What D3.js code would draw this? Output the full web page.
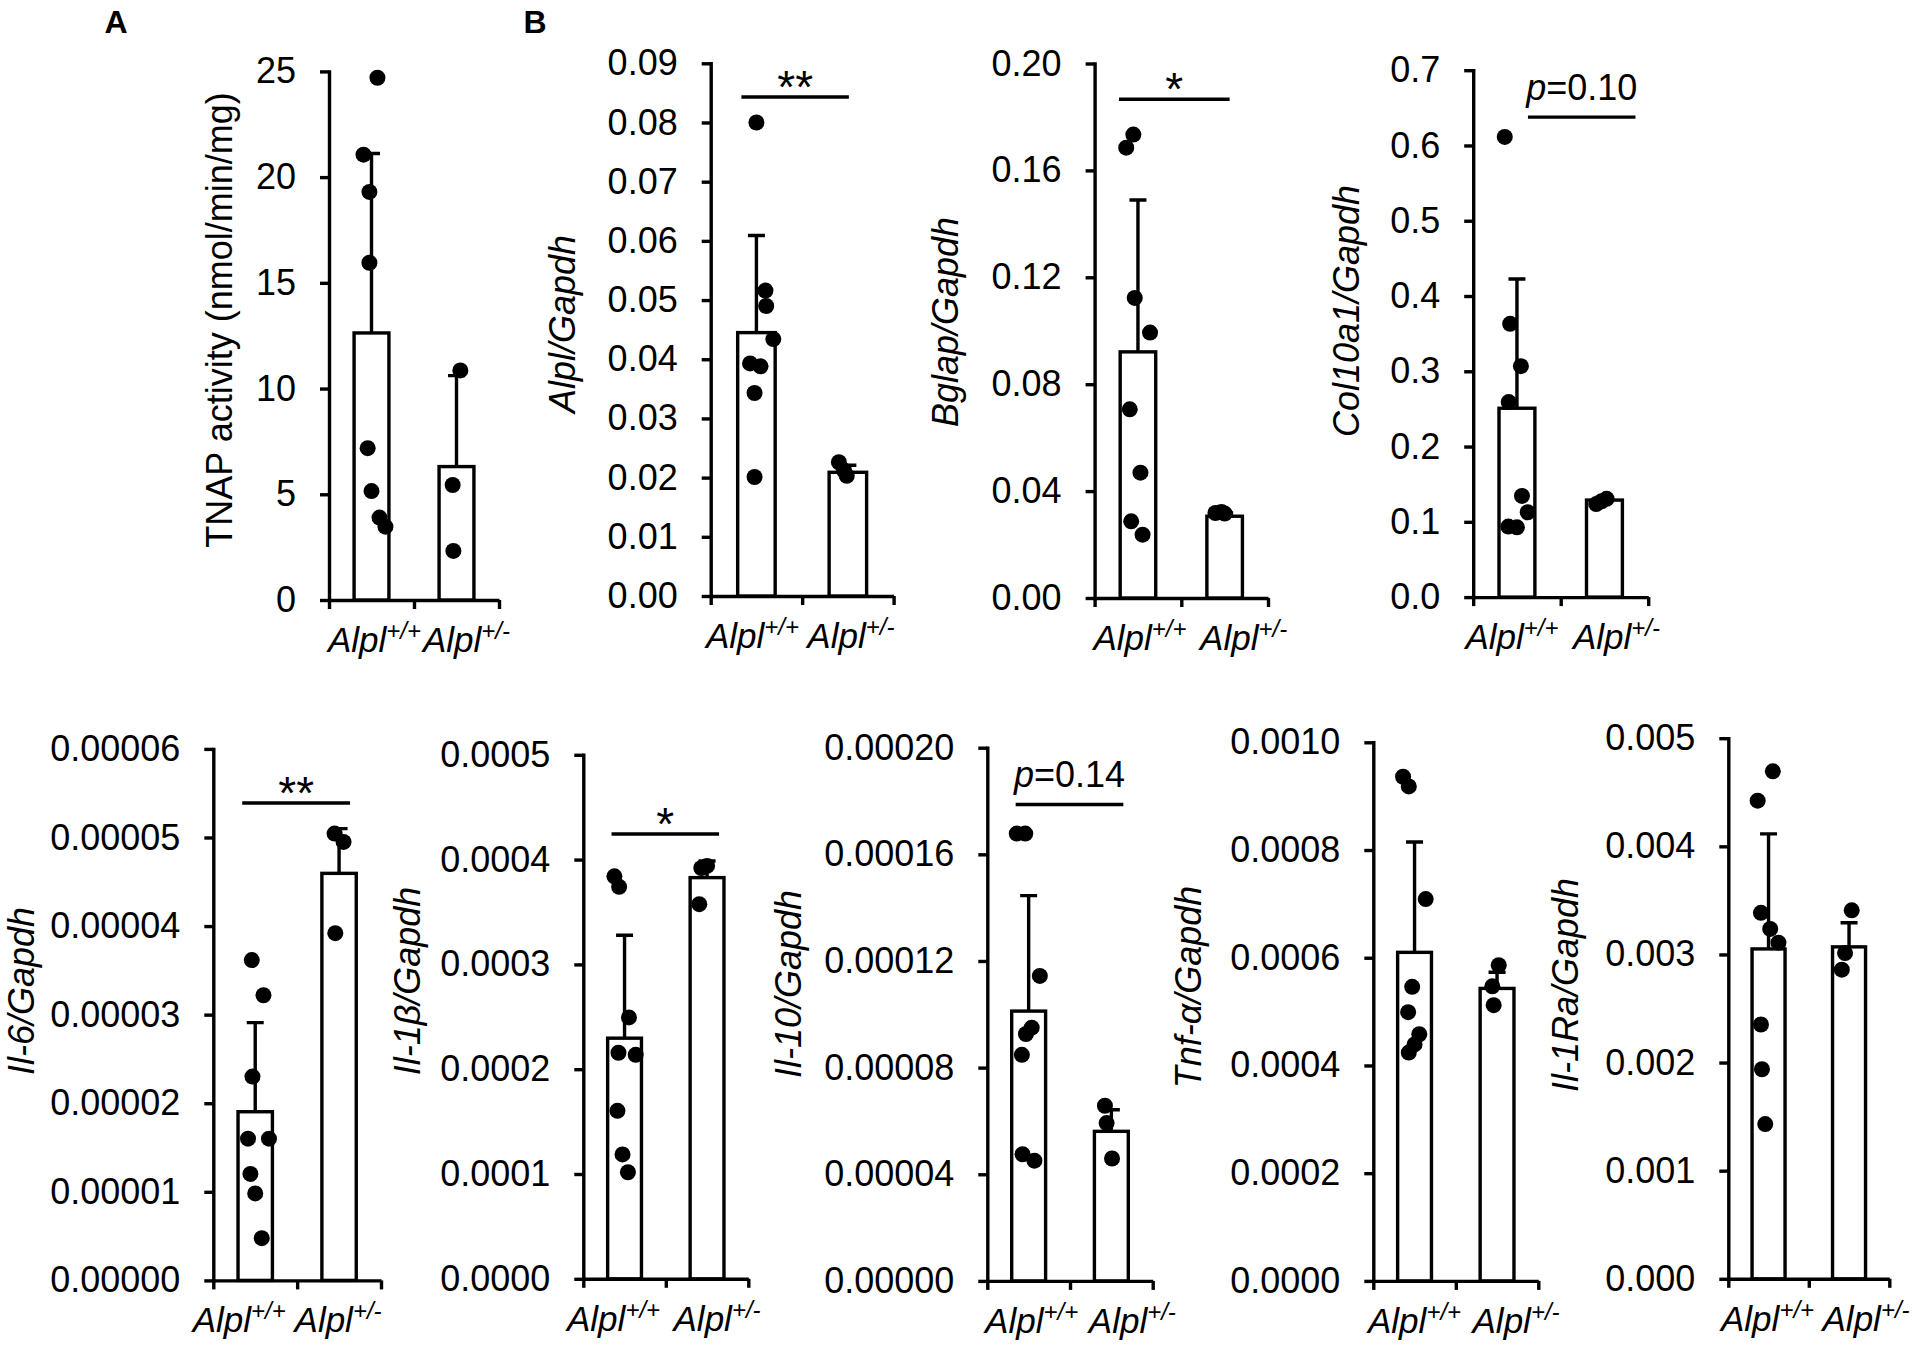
<!DOCTYPE html>
<html>
<head>
<meta charset="utf-8">
<script src="https://cdn.jsdelivr.net/npm/d3@7"></script>
<style>
    body { margin: 0; background: #fff; }
    svg text { font-family: "Liberation Sans", Arial, sans-serif; fill: #000; }
</style>
</head>
<body>
<svg id="chart" width="1920" height="1350"></svg>
<script>
// genotypes on every x axis
const groups = ['wt', 'het']
const groupSup = ['+/+', '+/-']

// y axis titles: A, then the three B panels on top, then the five below
const yTitles = ['TNAP activity (nmol/min/mg)', 'Alpl/Gapdh', 'Bglap/Gapdh', 'Col10a1/Gapdh',
    'Il-6/Gapdh', 'Il-1β/Gapdh', 'Il-10/Gapdh', 'Tnf-α/Gapdh', 'Il-1Ra/Gapdh']

const tickLabels = [
    ['0', '5', '10', '15', '20', '25'],
    ['0.00', '0.01', '0.02', '0.03', '0.04', '0.05', '0.06', '0.07', '0.08', '0.09'],
    ['0.00', '0.04', '0.08', '0.12', '0.16', '0.20'],
    ['0.0', '0.1', '0.2', '0.3', '0.4', '0.5', '0.6', '0.7'],
    ['0.00000', '0.00001', '0.00002', '0.00003', '0.00004', '0.00005', '0.00006'],
    ['0.0000', '0.0001', '0.0002', '0.0003', '0.0004', '0.0005'],
    ['0.00000', '0.00004', '0.00008', '0.00012', '0.00016', '0.00020'],
    ['0.0000', '0.0002', '0.0004', '0.0006', '0.0008', '0.0010'],
    ['0.000', '0.001', '0.002', '0.003', '0.004', '0.005'],
]

// bar = mean, whisker top = mean + SD  ([Alpl+/+, Alpl+/-])
const barMeans = [
    [12.63, 6.31], [0.0445, 0.0209], [0.0921, 0.0306], [0.2509, 0.1289],
    [0.00001904, 0.00004595], [0.0002296, 0.0003828], [0.0001012, 0.0000561],
    [0.000610, 0.000543], [0.003051, 0.00307],
]
const barSdTops = [
    [21.12, 10.61], [0.0609, 0.0221], [0.1489, 0.0318], [0.4227, 0.1320],
    [0.0000291, 0.0000510], [0.0003278, 0.0003987], [0.0001445, 0.0000642],
    [0.000815, 0.000573], [0.004115, 0.003293],
]

// single animals
const wtPoints = [
    [24.7, 21.06, 19.3, 15.95, 7.18, 5.15, 3.9, 3.47],
    [0.0800, 0.0516, 0.0490, 0.0434, 0.0393, 0.0388, 0.0343, 0.0201],
    [0.1734, 0.1685, 0.1123, 0.0993, 0.0706, 0.0469, 0.0287, 0.0237],
    [0.6114, 0.3631, 0.3068, 0.2591, 0.1344, 0.1127, 0.0937, 0.0927],
    [0.00003616, 0.00003219, 0.00002301, 0.0000160, 0.0000160, 0.00001202, 0.00000982, 0.00000477],
    [0.000384, 0.000374, 0.0002494, 0.0002157, 0.0002137, 0.0001603, 0.0001187, 0.0001017],
    [0.0001678, 0.0001678, 0.0001144, 0.0000950, 0.0000926, 0.0000848, 0.0000475, 0.0000451],
    [0.000936, 0.000918, 0.000709, 0.000546, 0.000499, 0.000458, 0.000439, 0.000424],
    [0.004694, 0.004422, 0.003385, 0.003236, 0.003109, 0.002352, 0.001938, 0.001431],
]
const hetPoints = [
    [10.86, 5.44, 2.32],
    [0.0226, 0.0212, 0.0203],
    [0.0318, 0.0322, 0.0316],
    [0.1236, 0.1273, 0.1306],
    [0.00005044, 0.0000495, 0.0000392],
    [0.000392, 0.000394, 0.0003575],
    [0.0000657, 0.0000592, 0.0000459],
    [0.000586, 0.000547, 0.000512],
    [0.003408, 0.003013, 0.002859],
]
// sideways spread of the dots, as a share of the bar width
const wtJitter = [
    [0.17, -0.23, -0.06, -0.06, -0.11, 0, 0.23, 0.4],
    [0, 0.24, 0.26, 0.45, -0.17, 0.11, -0.05, -0.05],
    [-0.13, -0.33, -0.09, 0.34, -0.23, 0.07, -0.19, 0.13],
    [-0.34, -0.19, 0.11, -0.23, 0.14, 0.3, -0.24, 0],
    [-0.1, 0.24, -0.08, -0.21, 0.4, -0.14, 0, 0.19],
    [-0.3, -0.16, 0.13, -0.18, 0.33, -0.21, -0.06, 0.1],
    [-0.35, -0.1, 0.33, 0.09, -0.08, -0.2, -0.18, 0.17],
    [-0.34, -0.17, 0.33, -0.07, -0.19, 0.14, 0, -0.17],
    [0.13, -0.33, -0.23, 0.05, 0.3, -0.23, -0.2, -0.1],
]
const hetJitter = [
    [0.11, -0.11, -0.09],
    [-0.24, -0.1, -0.03],
    [-0.26, -0.09, 0],
    [-0.23, -0.08, 0.06],
    [-0.13, 0.13, -0.11],
    [-0.17, 0, -0.23],
    [-0.19, -0.14, 0.02],
    [0.05, -0.14, -0.1],
    [0.08, -0.12, -0.22],
]

// significance marks
const sigLabels = ['', '**', '*', 'p=0.10', '**', '*', 'p=0.14', '', '']
const sigLevels = [null, 0.0843, 0.1866, 0.6376, 0.0000539, 0.0004244, 0.0001787, null, null]

// where each panel sits on the page
const panels = [
    {x0: 329, x1: 499, yTop: 71.4, y0: 600, titleX: 232, titleY: 320, labShift: [3, 10], sigDx: null},
    {x0: 710.7, x1: 893.6, yTop: 63.3, y0: 596, titleX: 575, titleY: 324, labShift: [-4, 3], sigDx: [-15, 1]},
    {x0: 1094.6, x1: 1268, yTop: 63.5, y0: 598, titleX: 958, titleY: 322, labShift: [2, 19], sigDx: [-19, 5]},
    {x0: 1473.2, x1: 1648.2, yTop: 70.2, y0: 597.1, titleX: 1359, titleY: 311, labShift: [-5, 12], sigDx: [11, 31]},
    {x0: 213.3, x1: 381, yTop: 748.9, y0: 1280.4, titleX: 34, titleY: 991, labShift: [-16, -1], sigDx: [-13, 11]},
    {x0: 583.3, x1: 748.3, yTop: 754.8, y0: 1278.8, titleX: 420, titleY: 981, labShift: [-11, 10], sigDx: [-13, 12]},
    {x0: 987.3, x1: 1152.7, yTop: 747.7, y0: 1280.9, titleX: 801, titleY: 984, labShift: [3, 21], sigDx: [-13, 12]},
    {x0: 1373.3, x1: 1538.3, yTop: 742.3, y0: 1280.9, titleX: 1201, titleY: 987, labShift: [0, 19], sigDx: null},
    {x0: 1728.3, x1: 1889.3, yTop: 738.2, y0: 1278.8, titleX: 1578, titleY: 985, labShift: [-1, 17], sigDx: null},
]

const lineW = 3.4
const svg = d3.select('#chart')

// panel letters
svg.append('text').attr('x', 116).attr('y', 33).attr('text-anchor', 'middle')
    .attr('font-size', 32).attr('font-weight', 'bold').text('A')
svg.append('text').attr('x', 535).attr('y', 33).attr('text-anchor', 'middle')
    .attr('font-size', 32).attr('font-weight', 'bold').text('B')

panels.forEach(function(p, i) {
    const g = svg.append('g')
    const ticks = tickLabels[i].map(Number)

    const y = d3.scaleLinear()
        .domain([0, d3.max(ticks)])
        .range([p.y0, p.yTop])
    const x = d3.scaleBand()
        .domain(groups)
        .range([p.x0, p.x1])
    // band edges for the x axis ticks
    const xEdge = d3.scaleLinear().domain([0, 2]).range([p.x0, p.x1])
    const barW = x.bandwidth() * 0.41
    const mid = function(k) { return x(k) + x.bandwidth() / 2 }

    // y axis
    const yAxis = g.append('g')
        .attr('transform', `translate(${p.x0},0)`)
        .call(d3.axisLeft(y)
            .tickValues(ticks)
            .tickFormat(function(d, j) { return tickLabels[i][j] })
            .tickSize(9)
            .tickSizeOuter(0)
            .tickPadding(24))
    yAxis.attr('font-size', 36).attr('font-family', null)
    yAxis.selectAll('line, path').attr('stroke', '#000').attr('stroke-width', lineW)
    yAxis.select('path').attr('stroke-linecap', 'square')

    // x axis
    const xAxis = g.append('g')
        .attr('transform', `translate(0,${p.y0})`)
        .call(d3.axisBottom(xEdge)
            .tickValues([0, 1, 2])
            .tickFormat('')
            .tickSize(9)
            .tickSizeOuter(0))
    xAxis.selectAll('line, path').attr('stroke', '#000').attr('stroke-width', lineW)

    // bars
    g.selectAll('.bar')
        .data(groups)
        .enter().append('rect')
        .attr('class', 'bar')
        .attr('x', function(d) { return mid(d) - barW / 2 })
        .attr('y', function(d, j) { return y(barMeans[i][j]) })
        .attr('width', barW)
        .attr('height', function(d, j) { return p.y0 - y(barMeans[i][j]) })
        .attr('fill', '#fff')
        .attr('stroke', '#000')
        .attr('stroke-width', lineW)

    // whiskers (upper only) with cap
    g.selectAll('.err')
        .data(groups)
        .enter().append('path')
        .attr('class', 'err')
        .attr('d', function(d, j) {
            const cx = mid(d)
            const top = y(barSdTops[i][j])
            return `M${cx},${y(barMeans[i][j])}V${top}M${cx - 8.5},${top}H${cx + 8.5}`
        })
        .attr('fill', 'none')
        .attr('stroke', '#000')
        .attr('stroke-width', lineW)

    // dots
    const dots = []
    wtPoints[i].forEach(function(v, j) { dots.push({g: 'wt', v: v, j: wtJitter[i][j]}) })
    hetPoints[i].forEach(function(v, j) { dots.push({g: 'het', v: v, j: hetJitter[i][j]}) })
    g.selectAll('.dot')
        .data(dots)
        .enter().append('circle')
        .attr('class', 'dot')
        .attr('cx', function(d) { return mid(d.g) + d.j * barW })
        .attr('cy', function(d) { return y(d.v) })
        .attr('r', 8)
        .attr('fill', '#000')

    // y title
    g.append('text')
        .attr('transform', `translate(${p.titleX},${p.titleY}) rotate(-90)`)
        .attr('text-anchor', 'middle')
        .attr('font-size', 36)
        .attr('font-style', i == 0 ? 'normal' : 'italic')
        .text(yTitles[i])

    // category labels
    groups.forEach(function(k, j) {
        const t = g.append('text')
            .attr('x', mid(k) + p.labShift[j])
            .attr('y', p.y0 + 52)
            .attr('text-anchor', 'middle')
            .attr('font-size', 35)
            .attr('font-style', 'italic')
        t.append('tspan').text('Alpl')
        t.append('tspan').attr('font-size', 24).attr('dy', -13).text(groupSup[j])
    })

    // significance bar
    if (p.sigDx) {
        const ly = y(sigLevels[i])
        g.append('line')
            .attr('x1', mid('wt') + p.sigDx[0])
            .attr('x2', mid('het') + p.sigDx[1])
            .attr('y1', ly).attr('y2', ly)
            .attr('stroke', '#000')
            .attr('stroke-width', lineW)
        const cx = (mid('wt') + p.sigDx[0] + mid('het') + p.sigDx[1]) / 2
        const lab = sigLabels[i]
        if (lab.startsWith('p')) {
            const t = g.append('text')
                .attr('x', cx).attr('y', ly - 17)
                .attr('text-anchor', 'middle')
                .attr('font-size', 36)
            t.append('tspan').attr('font-style', 'italic').text('p')
            t.append('tspan').text(lab.slice(1))
        } else {
            g.append('text')
                .attr('x', cx).attr('y', ly + 6)
                .attr('text-anchor', 'middle')
                .attr('font-size', 46)
                .text(lab)
        }
    }
})
</script>
</body>
</html>
